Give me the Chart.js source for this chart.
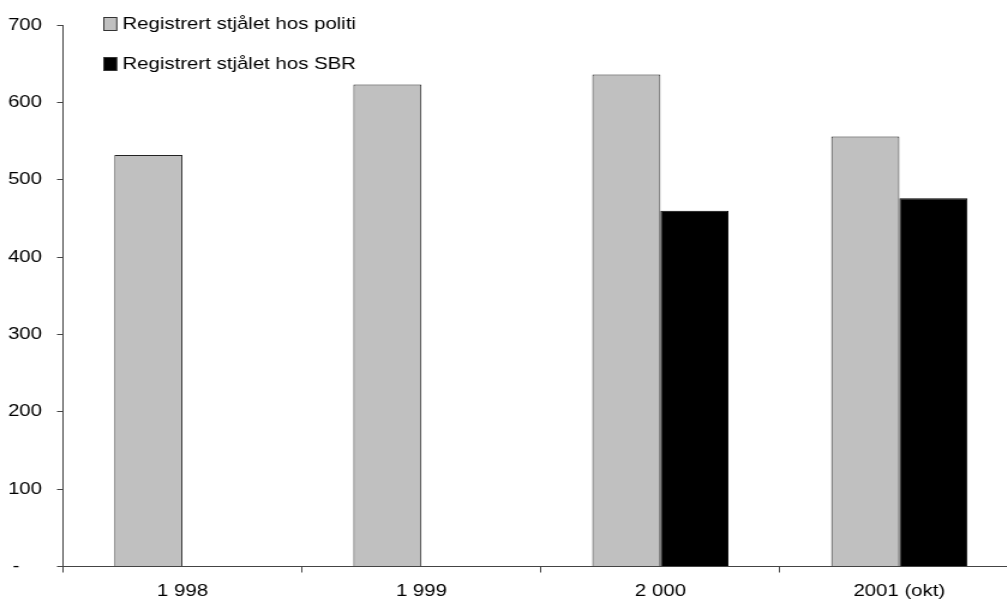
<!DOCTYPE html>
<html lang="no">
<head>
    <meta charset="UTF-8">
    <title>Registrert stjålet</title>
    <script src="https://cdn.jsdelivr.net/npm/chart.js"></script>
    <style>
        html, body { margin: 0; padding: 0; background: #fff; overflow: hidden; }
        /* the original chart is stretched sideways, so we draw narrow and widen it */
        .stretch { width: 850px; height: 604px; transform: scaleX(1.2); transform-origin: 0 0; }
    </style>
</head>
<body>
    <div class="stretch">
        <canvas id="theftChart" width="850" height="604"></canvas>
    </div>

    <script>
        const years = ['1 998', '1 999', '2 000', '2001 (okt)'];
        const politiValues = [532, 623, 636, 556];
        const sbrValues = [null, null, 460, 476];
        const seriesLabels = ['Registrert stjålet hos politi', 'Registrert stjålet hos SBR'];

        const fontFamily = '"Liberation Sans", Arial, sans-serif';
        Chart.defaults.font.family = fontFamily;
        Chart.defaults.font.size = 17;
        Chart.defaults.color = '#000';

        // legend sits inside the plot area, top left
        const insideLegend = {
            id: 'insideLegend',
            afterDraw(chart) {
                const ctx = chart.ctx;
                ctx.save();
                ctx.font = `17px ${fontFamily}`;
                ctx.textBaseline = 'middle';
                chart.data.datasets.forEach((ds, i) => {
                    const y = 24 + i * 40;
                    ctx.fillStyle = ds.backgroundColor;
                    ctx.fillRect(86.5, y - 6.5, 10.8, 13);
                    ctx.strokeStyle = '#333';
                    ctx.lineWidth = 1;
                    ctx.strokeRect(86.5, y - 6.5, 10.8, 13);
                    ctx.fillStyle = '#000';
                    ctx.fillText(ds.label, 102, y);
                });
                ctx.restore();
            }
        };

        new Chart(document.getElementById('theftChart'), {
            type: 'bar',
            data: {
                labels: years,
                datasets: [
                    {
                        label: seriesLabels[0],
                        data: politiValues,
                        backgroundColor: '#c0c0c0',
                        borderColor: '#222',
                        borderWidth: 1
                    },
                    {
                        label: seriesLabels[1],
                        data: sbrValues,
                        backgroundColor: '#000000',
                        borderColor: '#000',
                        borderWidth: 1
                    }
                ]
            },
            options: {
                responsive: false,
                devicePixelRatio: 1,
                animation: false,
                categoryPercentage: 0.57,
                barPercentage: 1,
                layout: {
                    padding: { top: 25, right: 1, bottom: 0, left: 0 }
                },
                plugins: {
                    legend: { display: false },
                    tooltip: { enabled: false }
                },
                scales: {
                    x: {
                        grid: {
                            offset: true,
                            drawOnChartArea: false,
                            tickLength: 6,
                            color: '#444'
                        },
                        border: { color: '#444', width: 1 },
                        ticks: { padding: 9, maxRotation: 0 },
                        afterFit(scale) { scale.height = 37.5; }
                    },
                    y: {
                        min: 0,
                        max: 700,
                        grid: {
                            drawOnChartArea: false,
                            tickLength: 5,
                            color: '#444'
                        },
                        border: { color: '#444', width: 1 },
                        ticks: {
                            stepSize: 100,
                            padding: 12.5,
                            callback: (v) => v === 0 ? '-    ' : v
                        },
                        afterFit(scale) { scale.width = 52.5; }
                    }
                }
            },
            plugins: [insideLegend]
        });
    </script>
</body>
</html>
